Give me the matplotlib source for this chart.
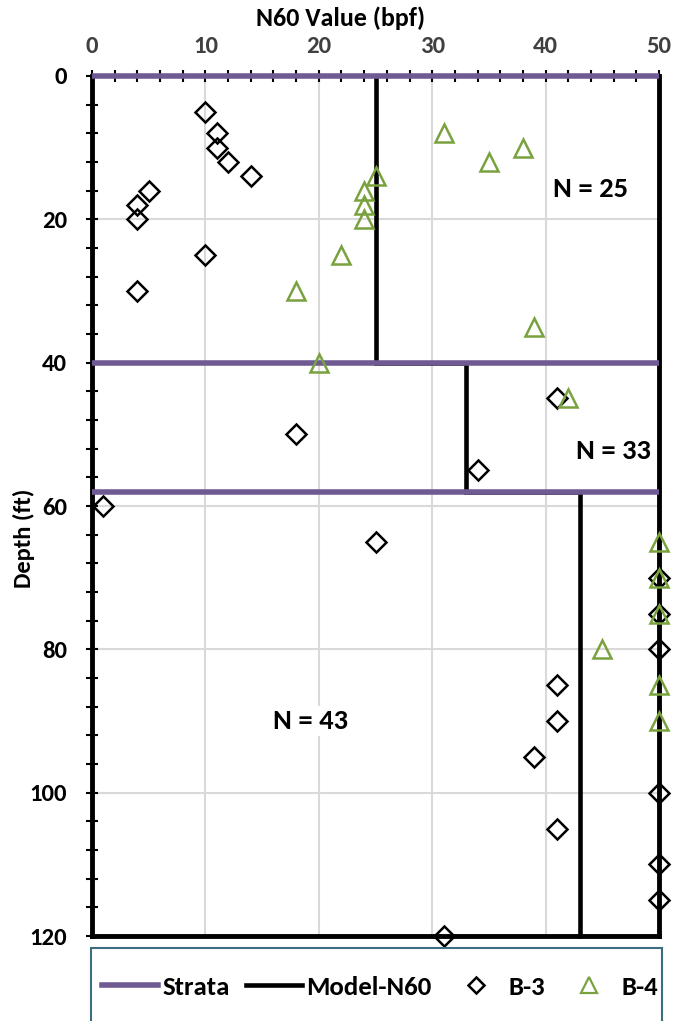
import matplotlib.pyplot as plt
from matplotlib.patches import Rectangle
from matplotlib.lines import Line2D
from matplotlib.ticker import MultipleLocator

# Strata boundaries (depth, ft)
strata_depths = [0, 40, 58]

# Model N60 step profile
model_n60 = [25, 25, 33, 33, 43, 43]
model_depth = [0, 40, 40, 58, 58, 120]

# Boring B-3
b3_n60 = [10, 11, 11, 12, 14, 5, 4, 4, 10, 4, 41, 18, 34, 1, 25,
          50, 50, 50, 41, 41, 39, 50, 41, 50, 50, 31]
b3_depth = [5, 8, 10, 12, 14, 16, 18, 20, 25, 30, 45, 50, 55, 60, 65,
            70, 75, 80, 85, 90, 95, 100, 105, 110, 115, 120]

# Boring B-4
b4_n60 = [31, 38, 35, 25, 24, 24, 24, 22, 18, 39, 20, 42,
          50, 50, 50, 45, 50, 50]
b4_depth = [8, 10, 12, 14, 16, 18, 20, 25, 30, 35, 40, 45,
            65, 70, 75, 80, 85, 90]

# Layer labels
layer_labels = ['N = 25', 'N = 33', 'N = 43']
label_x = [44, 46, 19.3]
label_y = [16.9, 53.4, 91.1]

PURPLE = '#6f5a92'
GREEN = '#79a23e'
FONT = 'Carlito'

fig = plt.figure(figsize=(6.73, 10.21), dpi=100)
renderer = fig.canvas.get_renderer()


def size_for_width(s, width_px):
    """Font size (pt) that makes bold text s about width_px wide."""
    t = fig.text(0, 0, s, fontsize=10, family=FONT, fontweight='bold')
    w = t.get_window_extent(renderer).width
    t.remove()
    return 10 * width_px / w


tick_size = size_for_width('10', 25)
title_size = size_for_width('N60 Value (bpf)', 170)
ylab_size = size_for_width('Depth (ft)', 100)
note_size = size_for_width('N = 25', 75)
legend_size = size_for_width('Model-N60', 125)

ax = fig.add_axes([92 / 673, 1 - 936 / 1021, 567 / 673, 860 / 1021])

ax.set_xlim(0, 50)
ax.set_ylim(120, 0)

ax.xaxis.tick_top()
ax.xaxis.set_label_position('top')
ax.xaxis.set_major_locator(MultipleLocator(10))
ax.xaxis.set_minor_locator(MultipleLocator(2))
ax.yaxis.set_major_locator(MultipleLocator(20))
ax.yaxis.set_minor_locator(MultipleLocator(4))

ax.grid(True, which='major', color='#d9d9d9', linewidth=1.5, zorder=0)
ax.set_axisbelow(True)

ax.tick_params(axis='both', which='both', direction='inout', color='black',
               width=1.5, length=8)
ax.tick_params(axis='x', which='major', pad=10, labelsize=tick_size, labelcolor='#404040')
ax.tick_params(axis='y', which='major', pad=14, labelsize=tick_size)

for lbl in ax.get_xticklabels() + ax.get_yticklabels():
    lbl.set_fontfamily(FONT)
    lbl.set_fontweight('bold')

for side in ['left', 'right', 'bottom']:
    ax.spines[side].set_linewidth(3.5)
    ax.spines[side].set_color('black')
ax.spines['top'].set_visible(False)

ax.set_xlabel('N60 Value (bpf)', fontsize=title_size, fontweight='bold', family=FONT)
ax.xaxis.set_label_coords(0.439, 1.058)
ax.set_ylabel('Depth (ft)', fontsize=ylab_size, fontweight='bold', family=FONT)
ax.yaxis.set_label_coords(-0.1005, 0.463)

# Strata lines
for d in strata_depths:
    ax.plot([0, 50], [d, d], color=PURPLE, linewidth=4, zorder=4, clip_on=False,
            solid_capstyle='butt')

# Model line
ax.plot(model_n60, model_depth, color='black', linewidth=3.3, zorder=3,
        solid_joinstyle='miter', clip_on=False)

# Data points
ax.plot(b3_n60, b3_depth, linestyle='none', marker='D', markersize=10,
        markerfacecolor='none', markeredgecolor='black', markeredgewidth=1.8,
        zorder=5, clip_on=False)
ax.plot(b4_n60, b4_depth, linestyle='none', marker='^', markersize=12.5,
        markerfacecolor='none', markeredgecolor=GREEN, markeredgewidth=1.8,
        zorder=6, clip_on=False)

for t, x, y in zip(layer_labels, label_x, label_y):
    ax.text(x, y, t, ha='center', va='baseline', fontsize=note_size, fontweight='bold',
            family=FONT, zorder=2,
            bbox=dict(facecolor='white', edgecolor='none', pad=2))

# Legend box
fig.patches.append(Rectangle((91 / 673, -0.01), 571 / 673, 0.01 + 1 - 948 / 1021,
                             transform=fig.transFigure, facecolor='none',
                             edgecolor='#3d6e80', linewidth=1.5))
handles = [
    Line2D([], [], color=PURPLE, linewidth=4),
    Line2D([], [], color='black', linewidth=3.3),
    Line2D([], [], linestyle='none', marker='D', markersize=8, markerfacecolor='none',
           markeredgecolor='black', markeredgewidth=1.8),
    Line2D([], [], linestyle='none', marker='^', markersize=12, markerfacecolor='none',
           markeredgecolor=GREEN, markeredgewidth=1.6),
]
fig.legend(handles, ['Strata', 'Model-N60', 'B-3', 'B-4'], loc='center',
           bbox_to_anchor=(380 / 673, 1 - 987 / 1021), ncol=4, frameon=False,
           prop={'family': FONT, 'weight': 'bold', 'size': legend_size},
           handlelength=2.1, handletextpad=0.15, columnspacing=0.62,
           borderpad=0, borderaxespad=0)

fig.savefig('out.png', dpi=100)
